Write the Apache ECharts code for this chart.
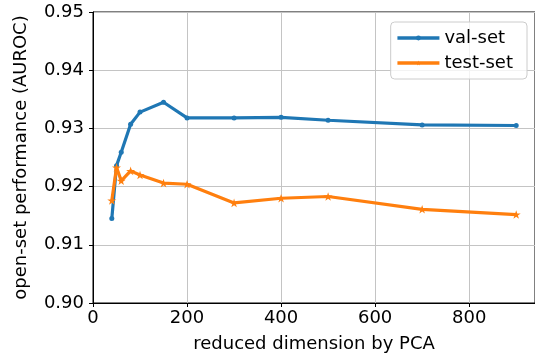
<!DOCTYPE html>
<html>
<head>
<meta charset="utf-8">
<script src="https://cdn.jsdelivr.net/npm/echarts@6/dist/echarts.min.js"></script>
<style>html,body{margin:0;padding:0;background:#fff}#c{width:535px;height:358px}</style>
</head>
<body>
<div id="c"></div>
<script>
const dims = [40, 50, 60, 80, 100, 150, 200, 300, 400, 500, 700, 900];
const valSet = [0.9145, 0.9236, 0.9259, 0.9307, 0.9328, 0.9345, 0.9318, 0.9318, 0.9319, 0.9314, 0.9306, 0.9305];
const testSet = [0.9176, 0.9233, 0.9210, 0.9227, 0.9220, 0.9206, 0.9204, 0.9172, 0.9180, 0.9183, 0.9161, 0.9152];
const yTicks = [0.90, 0.91, 0.92, 0.93, 0.94, 0.95];
const xTicks = [0, 200, 400, 600, 800];

const FONT = 'DejaVu Sans';
const FS = 18;
const star = 'path://M0,-1 L0.224,-0.309 L0.951,-0.309 L0.363,0.118 L0.588,0.809 L0,0.382 L-0.588,0.809 L-0.363,0.118 L-0.951,-0.309 L-0.224,-0.309 Z';

const chart = echarts.init(document.getElementById('c'), null, {renderer: 'canvas'});
chart.setOption({
  animation: false,
  textStyle: {fontFamily: FONT},
  grid: {left: 93, top: 12, right: -1, bottom: 53, show: true, borderColor: '#000', borderWidth: 1, backgroundColor: 'transparent'},
  legend: {
    right: 8, top: 22, orient: 'vertical',
    itemWidth: 42, itemHeight: 6, itemGap: 7, itemTextGap: 14,
    padding: [7, 14, 7, 5],
    lineStyle: {width: 3.5},
    backgroundColor: 'rgba(255,255,255,0.8)', borderColor: '#cccccc', borderWidth: 1, borderRadius: 4,
    textStyle: {fontFamily: FONT, fontSize: FS, color: '#000'},
    data: ['val-set', 'test-set']
  },
  xAxis: {
    type: 'value', min: 0, max: 940, interval: 200,
    name: 'reduced dimension by PCA', nameLocation: 'middle', nameGap: 32,
    nameTextStyle: {fontFamily: FONT, fontSize: FS, color: '#000'},
    axisLine: {show: true, lineStyle: {color: '#000', width: 1}},
    axisTick: {show: true, length: 4, inside: false, lineStyle: {color: '#000'}},
    axisLabel: {fontFamily: FONT, fontSize: FS, color: '#000', margin: 6, showMaxLabel: false,
      formatter: v => xTicks.includes(v) ? String(v) : ''},
    splitLine: {show: true, lineStyle: {color: '#c4c4c4', width: 1}}
  },
  yAxis: {
    type: 'value', min: 0.90, max: 0.95, interval: 0.01,
    name: 'open-set performance (AUROC)', nameLocation: 'middle', nameGap: 63,
    nameTextStyle: {fontFamily: FONT, fontSize: FS, color: '#000'},
    axisLine: {show: true, lineStyle: {color: '#000', width: 1}},
    axisTick: {show: true, length: 4, lineStyle: {color: '#000'}},
    axisLabel: {fontFamily: FONT, fontSize: FS, color: '#000', margin: 9,
      formatter: v => yTicks.find(t => Math.abs(t - v) < 1e-6) !== undefined ? v.toFixed(2) : ''},
    splitLine: {show: true, lineStyle: {color: '#c4c4c4', width: 1}}
  },
  series: [
    {
      name: 'val-set', type: 'line', data: dims.map((d, i) => [d, valSet[i]]),
      color: '#1f77b4', lineStyle: {width: 3.2, color: '#1f77b4'},
      symbol: 'circle', symbolSize: 5, showAllSymbol: true,
      itemStyle: {color: '#1f77b4'}
    },
    {
      name: 'test-set', type: 'line', data: dims.map((d, i) => [d, testSet[i]]),
      color: '#ff7f0e', lineStyle: {width: 3.2, color: '#ff7f0e'},
      symbol: star, symbolSize: 9, symbolKeepAspect: true, showAllSymbol: true,
      itemStyle: {color: '#ff7f0e'}
    }
  ]
});
</script>
</body>
</html>
